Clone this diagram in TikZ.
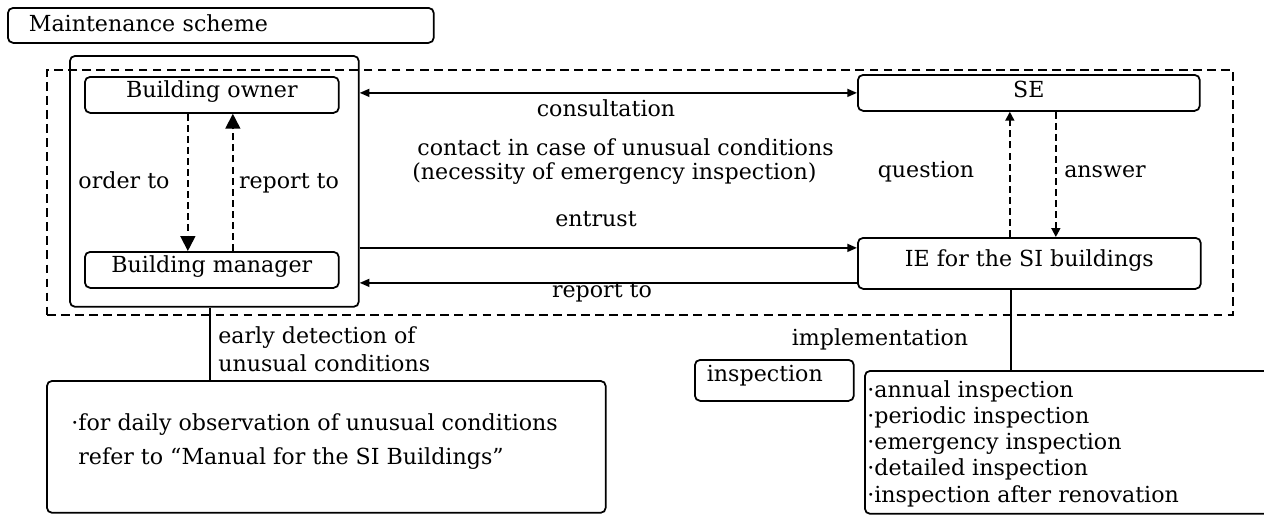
\documentclass[tikz,border=0pt]{standalone}
\usepackage{fontspec}
\setmainfont{DejaVu Serif}
\usetikzlibrary{arrows.meta,calc}
\lineskiplimit=-10pt
\begin{document}
\begin{tikzpicture}[x=0.02cm,y=-0.02cm, font=\fontsize{12.6}{15}\selectfont,
  box/.style={draw, line width=1pt, rounded corners=3pt, inner sep=0pt, anchor=north west},
  boxtxt/.style={text height=0.75em, text depth=0.4em},
  area/.style={draw, line width=1pt, dash pattern=on 5pt off 3pt, inner sep=0pt, anchor=north west},
  sarrow/.style={line width=1pt, -{Triangle[length=5.5pt,width=4.5pt]}},
  darrow/.style={line width=1pt, dash pattern=on 4pt off 2.3pt, -{Triangle[length=8.5pt,width=8.5pt]}},
  qarrow/.style={line width=1pt, dash pattern=on 4pt off 2.3pt, -{Triangle[length=5pt,width=5pt]}},
  link/.style={line width=1pt},
  lbl/.style={anchor=base, inner sep=0pt},
  para/.style={anchor=base west, inner sep=0pt, align=left}
]
\useasboundingbox (0,0) rectangle (1264,515);
\clip (0,0) rectangle (1264,515);

% boxes
\node[box, minimum width=8.52cm, minimum height=0.7cm, text width=7.68cm,
      inner xsep=0.42cm, align=left, text height=0.75em, text depth=0.1em] (title) at (7,7) {Maintenance scheme};
\node[area, minimum width=23.72cm, minimum height=4.9cm] (area) at (46,69) {};
\node[box, minimum width=5.78cm, minimum height=5.02cm] (party) at (69,55) {};
\node[box, boxtxt, minimum width=5.08cm, minimum height=0.72cm] (owner) at (84,76) {Building owner};
\node[box, boxtxt, minimum width=5.08cm, minimum height=0.72cm] (manager) at (84,251) {Building manager};
\node[box, text height=0.75em, text depth=0.2em, minimum width=6.84cm, minimum height=0.72cm] (se) at (857,74) {SE};
\node[box, boxtxt, minimum width=6.86cm, minimum height=1.02cm] (ie) at (857,237) {IE for the SI buildings};
\node[box, minimum width=11.18cm, minimum height=2.64cm] (obs) at (46,380) {};
\node[box, minimum width=3.18cm, minimum height=0.82cm, text width=2.70cm,
      inner xsep=0.24cm, align=left, text height=0.75em, text depth=0.65em] (insp) at (694,359) {inspection};
\node[box, minimum width=8.72cm, minimum height=2.86cm] (list) at (864,370) {};

% labels
\node[lbl] at (124,188) {order to};
\node[lbl] at (289,188) {report to};
\node[lbl] at (606,116) {consultation};
\node[para, font=\fontsize{12.6}{13.3}\selectfont] at (412,179) {\hspace*{2.85pt}contact in case of unusual conditions\\(necessity of emergency inspection)};
\node[lbl] at (596,226) {entrust};
\node[lbl] at (602,297) {report to};
\node[lbl] at (926,177) {question};
\node[lbl] at (1105,177) {answer};
\node[lbl] at (880,345) {implementation};
\node[para, font=\fontsize{12.6}{15.9}\selectfont] at (218,371) {early detection of\\unusual conditions};
\node[para, font=\fontsize{12.6}{18.8}\selectfont] at (71,464) {·for daily observation of unusual conditions\\\phantom{·}refer to “Manual for the SI Buildings”};
\node[para, font=\fontsize{12.6}{14.9}\selectfont] at (867,502) {·annual inspection\\·periodic inspection\\·emergency inspection\\·detailed inspection\\·inspection after renovation};

% connectors
\draw[line width=1pt, {Triangle[length=5.5pt,width=4.5pt]}-{Triangle[length=5.5pt,width=4.5pt]}]
  (party.east |- se.west) -- (se.west);
\coordinate (ent) at ($(ie.west)+(0,-15.5)$);
\draw[sarrow] (party.east |- ent) -- (ent);
\coordinate (rep) at ($(ie.west)+(0,19.5)$);
\draw[sarrow] (rep) -- (party.east |- rep);
\coordinate (ord) at ($(owner.south)+(-24,0)$);
\draw[darrow] (ord) -- (ord |- manager.north);
\coordinate (rpt) at ($(owner.south)+(21,0)$);
\draw[darrow] (rpt |- manager.north) -- (rpt);
\coordinate (qq) at ($(se.south)+(-19,0)$);
\draw[qarrow] (qq |- ie.north) -- (qq);
\coordinate (aa) at ($(se.south)+(27,0)$);
\draw[qarrow] (aa) -- (aa |- ie.north);
\coordinate (ed) at ($(party.south)+(-4.5,0)$);
\draw[link] (ed) -- (ed |- obs.north);
\coordinate (im) at ($(ie.south)+(-18.5,0)$);
\draw[link] (im) -- (im |- list.north);
\end{tikzpicture}
\end{document}
